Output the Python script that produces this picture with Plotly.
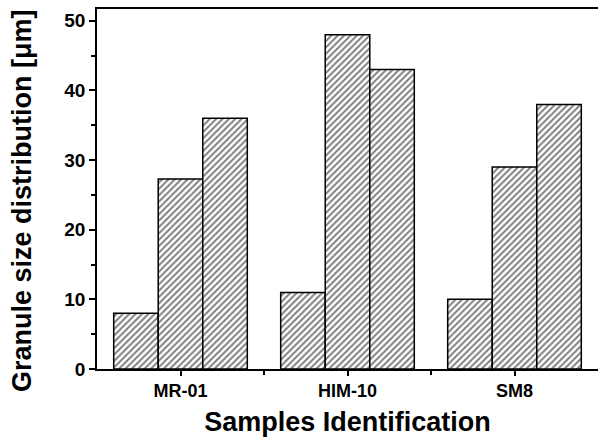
import plotly.graph_objects as go

categories = ["MR-01", "HIM-10", "SM8"]
series_a = [8.0, 11.0, 10.0]
series_b = [27.3, 48.0, 29.0]
series_c = [36.0, 43.0, 38.0]
y_ticks = [0, 10, 20, 30, 40, 50]

xpos = list(range(len(categories)))

fig = go.Figure()
for name, vals in [("A", series_a), ("B", series_b), ("C", series_c)]:
    fig.add_trace(go.Bar(
        x=xpos, y=vals, name=name,
        marker=dict(color="white",
                    line=dict(color="black", width=1.5),
                    pattern=dict(shape="/", fgcolor="black", bgcolor="white",
                                 size=4.5, solidity=0.45)),
    ))

font_family = "Liberation Sans, Arial, sans-serif"
W, H = 598, 441
L, R, T, B = 97, 0, 9, 72
fig.update_layout(
    barmode="group", bargap=0.2, bargroupgap=0,
    showlegend=False,
    width=W, height=H,
    margin=dict(l=L, r=R, t=T, b=B),
    plot_bgcolor="white", paper_bgcolor="white",
    font=dict(family=font_family, color="black"),
)
fig.update_xaxes(
    automargin=False,
    range=[-0.5, 2.5],
    tickvals=xpos, ticktext=categories,
    tickfont=dict(size=18, family=font_family, weight="bold"),
    ticks="outside", ticklen=5, tickwidth=1.5, tickcolor="black",
    minor=dict(tickvals=[0.5, 1.5], ticks="outside", ticklen=4, tickwidth=1.5, tickcolor="black"),
    showline=True, linecolor="black", linewidth=1.5, mirror=True,
    showgrid=False, zeroline=False,
    title=dict(text="Samples Identification", font=dict(size=27, family=font_family, weight="bold"), standoff=12),
)
fig.update_yaxes(
    automargin=False,
    range=[0, 51.7],
    tickvals=y_ticks,
    tickfont=dict(size=19, family=font_family, weight="bold"),
    ticks="outside", ticklen=6, tickwidth=1.5, tickcolor="black",
    minor=dict(tickvals=[5, 15, 25, 35, 45], ticks="outside", ticklen=4, tickwidth=1.5, tickcolor="black"),
    showline=True, linecolor="black", linewidth=1.5, mirror=True,
    showgrid=False, zeroline=False,
)
plot_w, plot_h = W - L - R, H - T - B
fig.add_annotation(
    text="Granule size distribution [μm]",
    xref="paper", yref="paper",
    x=(22 - L) / plot_w, y=((H - B) - 201) / plot_h,
    xanchor="center", yanchor="middle",
    textangle=-90, showarrow=False,
    font=dict(size=27, family=font_family, weight="bold", color="black"),
)

fig.write_html("out.html", config={"displayModeBar": False},
               post_script="document.body.style.margin='0';document.body.style.overflow='hidden';")
